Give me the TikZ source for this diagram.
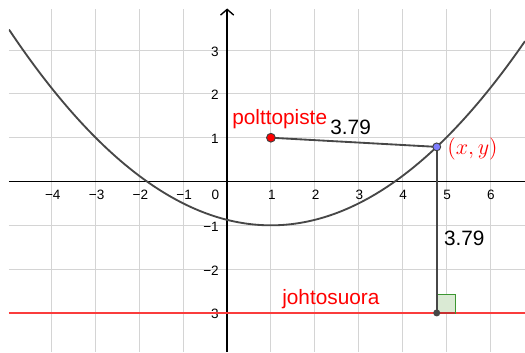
\documentclass[tikz,border=0pt]{standalone}
\usepackage{fontspec}
\setmainfont{Liberation Sans}
\definecolor{ggred}{RGB}{255,0,0}
\definecolor{ggline}{RGB}{250,60,60}
\definecolor{gggreen}{RGB}{60,150,50}
\definecolor{ggfill}{RGB}{218,234,212}
\definecolor{ggblue}{RGB}{125,125,255}
\begin{document}
\begin{tikzpicture}[x=1cm,y=1cm,
  gridline/.style={draw=black!17,line width=0.6pt},
  axisline/.style={draw=black,line width=0.9pt},
  curveline/.style={draw=black!72,line width=1.2pt},
  segline/.style={draw=black!72,line width=1.2pt},
  ticklab/.style={inner sep=0pt,font=\fontsize{8.8}{10}\selectfont},
  bigtext/.style={inner sep=0pt,font=\fontsize{13.5}{15}\selectfont},
  redtext/.style={bigtext,text=ggred}]
\useasboundingbox (-5.185,-3.893) rectangle (6.80,4.144);
% grid
\begin{scope}
\clip (-4.98,-3.893) rectangle (6.80,3.94);
\foreach \i in {-4,...,6} \draw[gridline] (\i,-3.893) -- (\i,3.94);
\foreach \j in {-3,...,3} \draw[gridline] (-4.98,\j) -- (6.80,\j);
\end{scope}
% axes
\draw[axisline] (-4.98,0) -- (6.80,0);
\draw[axisline] (0,-3.893) -- (0,3.92);
\draw[axisline] (-0.15,3.80) -- (0,3.93) -- (0.15,3.80);
% tick labels
\foreach \i/\t in {-4/−4,-3/−3,-2/−2,-1/−1,1/1,2/2,3/3,4/4,5/5,6/6}
  \node[ticklab] at (\i+0.02,-0.31) {\t};
\node[ticklab] at (-0.27,-0.31) {0};
\foreach \j/\t in {3/3,2/2,1/1,-1/−1,-2/−2,-3/−3}
  \node[ticklab,anchor=east] at (-0.185,\j-0.03) {\t};
% directrix
\draw[draw=ggline,line width=1pt] (-4.98,-3) -- (6.80,-3);
% parabola
\begin{scope}
\clip (-4.98,-3.893) rectangle (6.80,4.144);
\draw[curveline] plot[domain=-4.98:6.80,samples=120,smooth] (\x,{(\x-1)^2/8-1});
\end{scope}
% points
\coordinate (F) at (1,1);
\coordinate (P) at (4.785,0.791);
\coordinate (Q) at (4.785,-3);
% right angle marker
\draw[draw=gggreen,fill=ggfill,line width=0.9pt] (Q) rectangle ++(0.425,0.425);
\draw[draw=ggline!80!black,line width=1pt] (Q) -- ++(0.425,0);
\draw[segline] (F) -- (P);
\draw[segline] (P) -- (Q);
\fill[black!72] (Q) circle (0.08);
\draw[fill=ggred,draw=black!75,line width=0.6pt] (F) circle (0.1);
\draw[fill=ggblue,draw=black!75,line width=0.6pt] (P) circle (0.09);
% labels
\node[redtext,anchor=base west] (lf) at (0.112,1.306) {polttopiste};
\node[bigtext,anchor=base west] (d1) at (2.35,1.084) {3.79};
\node[redtext,anchor=west] (lp) at (5.02,0.742) {$(x,y)$};
\node[bigtext,anchor=base west] (d2) at (4.945,-1.457) {3.79};
\node[redtext,anchor=base west] (ld) at (1.253,-2.804) {johtosuora};
\end{tikzpicture}
\end{document}
